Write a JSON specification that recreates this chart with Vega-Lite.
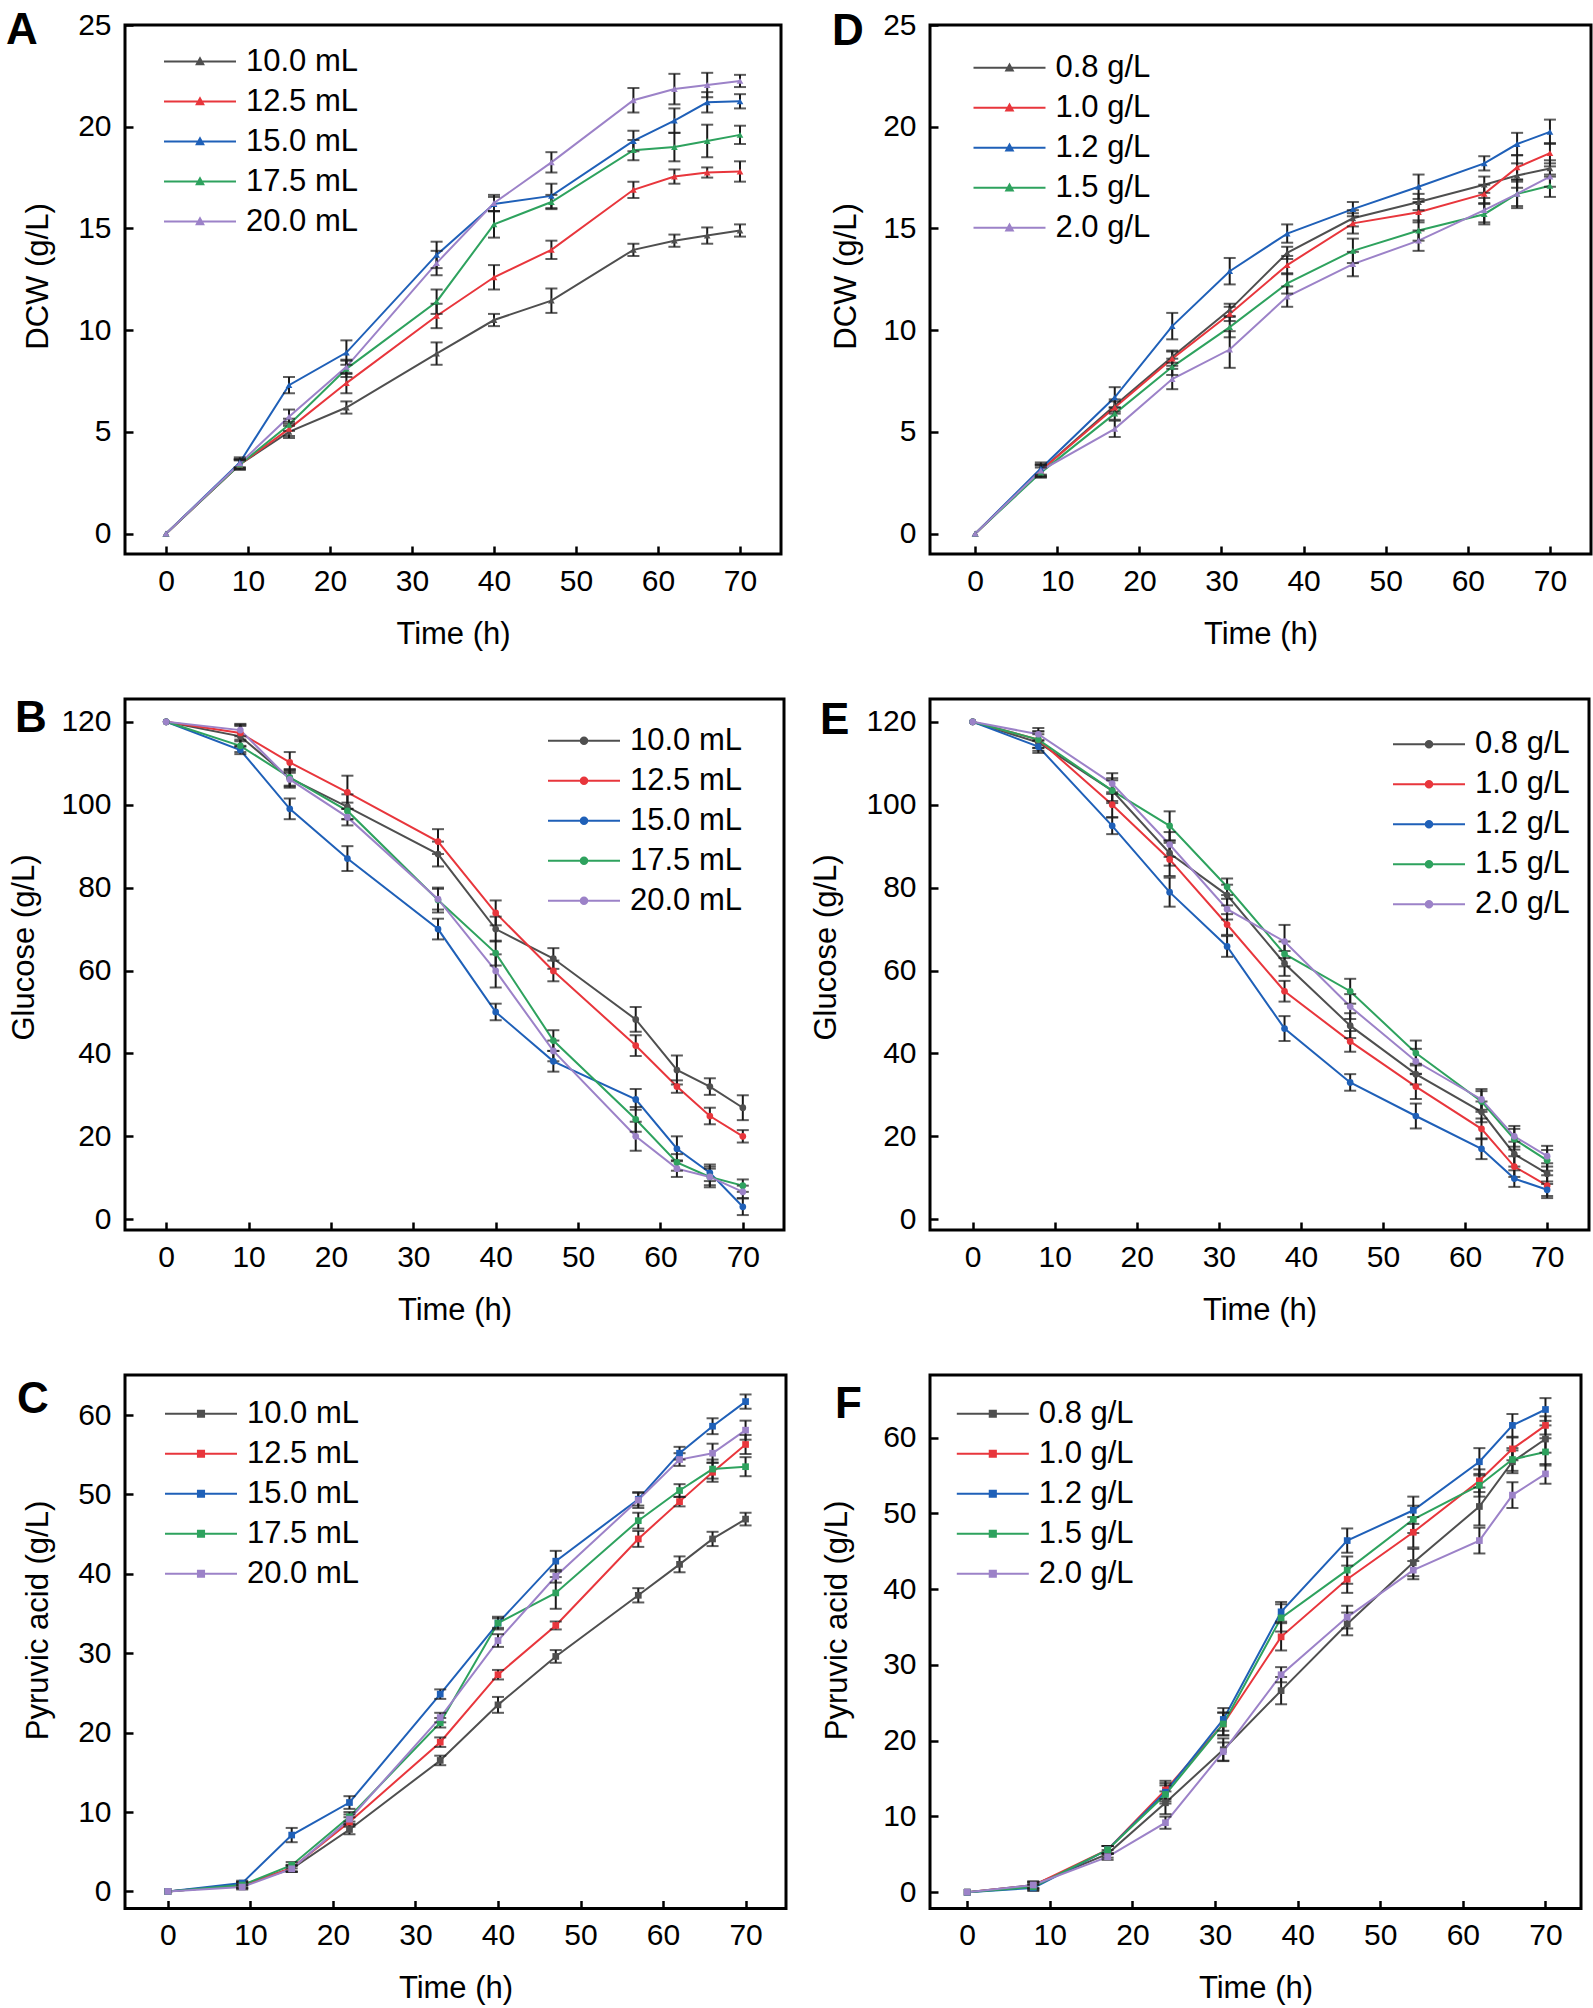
{
"$schema": "https://vega.github.io/schema/vega-lite/v6.json",
"background": "white",
"padding": {"left": 4, "top": 7, "right": 0, "bottom": 0},
"config": {
  "font": "Liberation Sans",
  "view": {"stroke": "#000000", "strokeWidth": 3},
  "axis": {"labelFont": "Liberation Sans", "labelFontSize": 30, "labelColor": "#000000", "titleFont": "Liberation Sans", "titleFontSize": 31, "titleFontWeight": "normal", "titleColor": "#000000", "grid": false, "domain": false, "tickColor": "#000000", "tickWidth": 2.5, "tickSize": -8, "labelFlush": false, "labelOverlap": false},
  "axisX": {"labelPadding": 44, "labelBaseline": "alphabetic", "titleY": 89, "titleBaseline": "alphabetic"},
  "axisY": {"labelPadding": 22, "labelBaseline": "middle", "titleBaseline": "middle", "titleAngle": 270},
  "legend": {"orient": "none", "padding": 0, "rowPadding": 0, "labelFont": "Liberation Sans", "labelFontSize": 31, "labelColor": "#000000", "labelOffset": 9, "symbolSize": 5184, "symbolStrokeWidth": 2, "symbolOpacity": 1, "labelLimit": 300, "title": null},
  "title": {"font": "Liberation Sans", "fontSize": 44, "fontWeight": "bold", "color": "#000000", "anchor": "start", "frame": "group", "offset": 0, "baseline": "alphabetic"}
},
"datasets": {
"A": [
{"t":0,"s":"10.0 mL","v":0,"e":0},{"t":9,"s":"10.0 mL","v":3.4,"e":0.25},{"t":15,"s":"10.0 mL","v":5.0,"e":0.3},{"t":22,"s":"10.0 mL","v":6.2,"e":0.3},{"t":33,"s":"10.0 mL","v":8.85,"e":0.55},{"t":40,"s":"10.0 mL","v":10.5,"e":0.3},{"t":47,"s":"10.0 mL","v":11.45,"e":0.6},{"t":57,"s":"10.0 mL","v":13.95,"e":0.3},{"t":62,"s":"10.0 mL","v":14.4,"e":0.3},{"t":66,"s":"10.0 mL","v":14.65,"e":0.4},{"t":70,"s":"10.0 mL","v":14.9,"e":0.3},
{"t":0,"s":"12.5 mL","v":0,"e":0},{"t":9,"s":"12.5 mL","v":3.4,"e":0.25},{"t":15,"s":"12.5 mL","v":5.15,"e":0.35},{"t":22,"s":"12.5 mL","v":7.4,"e":0.5},{"t":33,"s":"12.5 mL","v":10.7,"e":0.6},{"t":40,"s":"12.5 mL","v":12.6,"e":0.6},{"t":47,"s":"12.5 mL","v":13.95,"e":0.45},{"t":57,"s":"12.5 mL","v":16.9,"e":0.4},{"t":62,"s":"12.5 mL","v":17.55,"e":0.35},{"t":66,"s":"12.5 mL","v":17.75,"e":0.25},{"t":70,"s":"12.5 mL","v":17.8,"e":0.5},
{"t":0,"s":"15.0 mL","v":0,"e":0},{"t":9,"s":"15.0 mL","v":3.5,"e":0.25},{"t":15,"s":"15.0 mL","v":7.3,"e":0.4},{"t":22,"s":"15.0 mL","v":8.9,"e":0.6},{"t":33,"s":"15.0 mL","v":13.7,"e":0.65},{"t":40,"s":"15.0 mL","v":16.2,"e":0.35},{"t":47,"s":"15.0 mL","v":16.6,"e":0.6},{"t":57,"s":"15.0 mL","v":19.3,"e":0.5},{"t":62,"s":"15.0 mL","v":20.3,"e":0.6},{"t":66,"s":"15.0 mL","v":21.2,"e":0.5},{"t":70,"s":"15.0 mL","v":21.25,"e":0.35},
{"t":0,"s":"17.5 mL","v":0,"e":0},{"t":9,"s":"17.5 mL","v":3.4,"e":0.2},{"t":15,"s":"17.5 mL","v":5.35,"e":0.3},{"t":22,"s":"17.5 mL","v":8.1,"e":0.4},{"t":33,"s":"17.5 mL","v":11.4,"e":0.6},{"t":40,"s":"17.5 mL","v":15.2,"e":0.65},{"t":47,"s":"17.5 mL","v":16.3,"e":0.35},{"t":57,"s":"17.5 mL","v":18.85,"e":0.5},{"t":62,"s":"17.5 mL","v":19.0,"e":0.7},{"t":66,"s":"17.5 mL","v":19.3,"e":0.8},{"t":70,"s":"17.5 mL","v":19.6,"e":0.45},
{"t":0,"s":"20.0 mL","v":0,"e":0},{"t":9,"s":"20.0 mL","v":3.45,"e":0.2},{"t":15,"s":"20.0 mL","v":5.75,"e":0.35},{"t":22,"s":"20.0 mL","v":8.2,"e":0.35},{"t":33,"s":"20.0 mL","v":13.3,"e":0.6},{"t":40,"s":"20.0 mL","v":16.25,"e":0.4},{"t":47,"s":"20.0 mL","v":18.25,"e":0.5},{"t":57,"s":"20.0 mL","v":21.3,"e":0.6},{"t":62,"s":"20.0 mL","v":21.85,"e":0.75},{"t":66,"s":"20.0 mL","v":22.05,"e":0.6},{"t":70,"s":"20.0 mL","v":22.25,"e":0.3}
],
"D": [
{"t":0,"s":"0.8 g/L","v":0,"e":0},{"t":8,"s":"0.8 g/L","v":3.1,"e":0.3},{"t":17,"s":"0.8 g/L","v":6.3,"e":0.3},{"t":24,"s":"0.8 g/L","v":8.7,"e":0.3},{"t":31,"s":"0.8 g/L","v":11.0,"e":0.3},{"t":38,"s":"0.8 g/L","v":13.8,"e":0.3},{"t":46,"s":"0.8 g/L","v":15.5,"e":0.4},{"t":54,"s":"0.8 g/L","v":16.3,"e":0.4},{"t":62,"s":"0.8 g/L","v":17.15,"e":0.4},{"t":66,"s":"0.8 g/L","v":17.6,"e":0.6},{"t":70,"s":"0.8 g/L","v":17.95,"e":0.4},
{"t":0,"s":"1.0 g/L","v":0,"e":0},{"t":8,"s":"1.0 g/L","v":3.1,"e":0.3},{"t":17,"s":"1.0 g/L","v":6.2,"e":0.3},{"t":24,"s":"1.0 g/L","v":8.6,"e":0.35},{"t":31,"s":"1.0 g/L","v":10.8,"e":0.35},{"t":38,"s":"1.0 g/L","v":13.2,"e":0.45},{"t":46,"s":"1.0 g/L","v":15.25,"e":0.5},{"t":54,"s":"1.0 g/L","v":15.8,"e":0.5},{"t":62,"s":"1.0 g/L","v":16.7,"e":0.45},{"t":66,"s":"1.0 g/L","v":18.0,"e":0.6},{"t":70,"s":"1.0 g/L","v":18.7,"e":0.5},
{"t":0,"s":"1.2 g/L","v":0,"e":0},{"t":8,"s":"1.2 g/L","v":3.2,"e":0.3},{"t":17,"s":"1.2 g/L","v":6.7,"e":0.5},{"t":24,"s":"1.2 g/L","v":10.2,"e":0.65},{"t":31,"s":"1.2 g/L","v":12.9,"e":0.65},{"t":38,"s":"1.2 g/L","v":14.75,"e":0.45},{"t":46,"s":"1.2 g/L","v":15.95,"e":0.35},{"t":54,"s":"1.2 g/L","v":17.05,"e":0.6},{"t":62,"s":"1.2 g/L","v":18.2,"e":0.35},{"t":66,"s":"1.2 g/L","v":19.15,"e":0.55},{"t":70,"s":"1.2 g/L","v":19.75,"e":0.6},
{"t":0,"s":"1.5 g/L","v":0,"e":0},{"t":8,"s":"1.5 g/L","v":3.0,"e":0.25},{"t":17,"s":"1.5 g/L","v":5.9,"e":0.3},{"t":24,"s":"1.5 g/L","v":8.2,"e":0.4},{"t":31,"s":"1.5 g/L","v":10.15,"e":0.5},{"t":38,"s":"1.5 g/L","v":12.3,"e":0.5},{"t":46,"s":"1.5 g/L","v":13.9,"e":0.6},{"t":54,"s":"1.5 g/L","v":14.9,"e":0.5},{"t":62,"s":"1.5 g/L","v":15.7,"e":0.5},{"t":66,"s":"1.5 g/L","v":16.7,"e":0.6},{"t":70,"s":"1.5 g/L","v":17.1,"e":0.55},
{"t":0,"s":"2.0 g/L","v":0,"e":0},{"t":8,"s":"2.0 g/L","v":3.1,"e":0.25},{"t":17,"s":"2.0 g/L","v":5.15,"e":0.4},{"t":24,"s":"2.0 g/L","v":7.6,"e":0.5},{"t":31,"s":"2.0 g/L","v":9.05,"e":0.9},{"t":38,"s":"2.0 g/L","v":11.65,"e":0.5},{"t":46,"s":"2.0 g/L","v":13.25,"e":0.6},{"t":54,"s":"2.0 g/L","v":14.4,"e":0.5},{"t":62,"s":"2.0 g/L","v":15.9,"e":0.6},{"t":66,"s":"2.0 g/L","v":16.7,"e":0.7},{"t":70,"s":"2.0 g/L","v":17.55,"e":0.5}
],
"B": [
{"t":0,"s":"10.0 mL","v":120,"e":0},{"t":9,"s":"10.0 mL","v":116.5,"e":2.5},{"t":15,"s":"10.0 mL","v":106.4,"e":2},{"t":22,"s":"10.0 mL","v":99.5,"e":3},{"t":33,"s":"10.0 mL","v":88.1,"e":3},{"t":40,"s":"10.0 mL","v":70.0,"e":3},{"t":47,"s":"10.0 mL","v":62.9,"e":2.5},{"t":57,"s":"10.0 mL","v":48.2,"e":3},{"t":62,"s":"10.0 mL","v":36.0,"e":3.5},{"t":66,"s":"10.0 mL","v":32.0,"e":2},{"t":70,"s":"10.0 mL","v":26.9,"e":3},
{"t":0,"s":"12.5 mL","v":120,"e":0},{"t":9,"s":"12.5 mL","v":117.3,"e":2},{"t":15,"s":"12.5 mL","v":110.2,"e":2.5},{"t":22,"s":"12.5 mL","v":103.0,"e":4},{"t":33,"s":"12.5 mL","v":91.1,"e":3},{"t":40,"s":"12.5 mL","v":73.9,"e":3},{"t":47,"s":"12.5 mL","v":59.9,"e":2.5},{"t":57,"s":"12.5 mL","v":41.9,"e":2.5},{"t":62,"s":"12.5 mL","v":32.0,"e":1.5},{"t":66,"s":"12.5 mL","v":24.9,"e":2},{"t":70,"s":"12.5 mL","v":20.0,"e":1.5},
{"t":0,"s":"15.0 mL","v":120,"e":0},{"t":9,"s":"15.0 mL","v":113.2,"e":1},{"t":15,"s":"15.0 mL","v":99.0,"e":2.5},{"t":22,"s":"15.0 mL","v":87.0,"e":3},{"t":33,"s":"15.0 mL","v":70.0,"e":2.5},{"t":40,"s":"15.0 mL","v":50.0,"e":2},{"t":47,"s":"15.0 mL","v":38.1,"e":2.5},{"t":57,"s":"15.0 mL","v":28.9,"e":2.5},{"t":62,"s":"15.0 mL","v":17.0,"e":3},{"t":66,"s":"15.0 mL","v":11.2,"e":2},{"t":70,"s":"15.0 mL","v":3.0,"e":2},
{"t":0,"s":"17.5 mL","v":120,"e":0},{"t":9,"s":"17.5 mL","v":114.2,"e":1.5},{"t":15,"s":"17.5 mL","v":106.6,"e":2},{"t":22,"s":"17.5 mL","v":98.5,"e":2},{"t":33,"s":"17.5 mL","v":77.0,"e":3},{"t":40,"s":"17.5 mL","v":64.2,"e":3},{"t":47,"s":"17.5 mL","v":43.1,"e":2.5},{"t":57,"s":"17.5 mL","v":24.1,"e":3},{"t":62,"s":"17.5 mL","v":13.7,"e":2},{"t":66,"s":"17.5 mL","v":10.2,"e":2},{"t":70,"s":"17.5 mL","v":8.1,"e":1.5},
{"t":0,"s":"20.0 mL","v":120,"e":0},{"t":9,"s":"20.0 mL","v":118.0,"e":1.5},{"t":15,"s":"20.0 mL","v":106.1,"e":2},{"t":22,"s":"20.0 mL","v":97.0,"e":2},{"t":33,"s":"20.0 mL","v":77.2,"e":2.5},{"t":40,"s":"20.0 mL","v":59.9,"e":4},{"t":47,"s":"20.0 mL","v":40.6,"e":2.5},{"t":57,"s":"20.0 mL","v":20.0,"e":3.5},{"t":62,"s":"20.0 mL","v":12.2,"e":2},{"t":66,"s":"20.0 mL","v":10.2,"e":2.5},{"t":70,"s":"20.0 mL","v":6.6,"e":1.5}
],
"E": [
{"t":0,"s":"0.8 g/L","v":120,"e":0},{"t":8,"s":"0.8 g/L","v":115,"e":2},{"t":17,"s":"0.8 g/L","v":103.4,"e":3},{"t":24,"s":"0.8 g/L","v":88.3,"e":3},{"t":31,"s":"0.8 g/L","v":78.2,"e":2.5},{"t":38,"s":"0.8 g/L","v":61.7,"e":3},{"t":46,"s":"0.8 g/L","v":46.7,"e":3},{"t":54,"s":"0.8 g/L","v":35.0,"e":2.5},{"t":62,"s":"0.8 g/L","v":25.9,"e":2.5},{"t":66,"s":"0.8 g/L","v":15.7,"e":3},{"t":70,"s":"0.8 g/L","v":11.0,"e":2.5},
{"t":0,"s":"1.0 g/L","v":120,"e":0},{"t":8,"s":"1.0 g/L","v":115.7,"e":2},{"t":17,"s":"1.0 g/L","v":100,"e":3},{"t":24,"s":"1.0 g/L","v":86.8,"e":4},{"t":31,"s":"1.0 g/L","v":71.1,"e":2.5},{"t":38,"s":"1.0 g/L","v":55.0,"e":2.5},{"t":46,"s":"1.0 g/L","v":42.9,"e":2.5},{"t":54,"s":"1.0 g/L","v":32.0,"e":3},{"t":62,"s":"1.0 g/L","v":21.8,"e":2.5},{"t":66,"s":"1.0 g/L","v":12.7,"e":2.5},{"t":70,"s":"1.0 g/L","v":8.1,"e":2.5},
{"t":0,"s":"1.2 g/L","v":120,"e":0},{"t":8,"s":"1.2 g/L","v":114,"e":1.5},{"t":17,"s":"1.2 g/L","v":94.9,"e":2},{"t":24,"s":"1.2 g/L","v":78.9,"e":3.5},{"t":31,"s":"1.2 g/L","v":65.8,"e":2.5},{"t":38,"s":"1.2 g/L","v":46.0,"e":3},{"t":46,"s":"1.2 g/L","v":33.0,"e":2},{"t":54,"s":"1.2 g/L","v":24.9,"e":3},{"t":62,"s":"1.2 g/L","v":17.0,"e":2.5},{"t":66,"s":"1.2 g/L","v":9.8,"e":2},{"t":70,"s":"1.2 g/L","v":7.1,"e":2},
{"t":0,"s":"1.5 g/L","v":120,"e":0},{"t":8,"s":"1.5 g/L","v":115.7,"e":2},{"t":17,"s":"1.5 g/L","v":103.4,"e":2.5},{"t":24,"s":"1.5 g/L","v":94.9,"e":3.5},{"t":31,"s":"1.5 g/L","v":80.2,"e":2},{"t":38,"s":"1.5 g/L","v":64.0,"e":3},{"t":46,"s":"1.5 g/L","v":55.0,"e":3},{"t":54,"s":"1.5 g/L","v":40.1,"e":3},{"t":62,"s":"1.5 g/L","v":28.4,"e":2.5},{"t":66,"s":"1.5 g/L","v":19.3,"e":2.5},{"t":70,"s":"1.5 g/L","v":14.2,"e":2.5},
{"t":0,"s":"2.0 g/L","v":120,"e":0},{"t":8,"s":"2.0 g/L","v":117.0,"e":1.5},{"t":17,"s":"2.0 g/L","v":105.1,"e":2.5},{"t":24,"s":"2.0 g/L","v":90.4,"e":3},{"t":31,"s":"2.0 g/L","v":74.8,"e":2.5},{"t":38,"s":"2.0 g/L","v":67.0,"e":4},{"t":46,"s":"2.0 g/L","v":51.3,"e":3},{"t":54,"s":"2.0 g/L","v":38.1,"e":3},{"t":62,"s":"2.0 g/L","v":28.9,"e":2.5},{"t":66,"s":"2.0 g/L","v":20.0,"e":2.5},{"t":70,"s":"2.0 g/L","v":15.2,"e":2.5}
],
"C": [
{"t":0,"s":"10.0 mL","v":0,"e":0},{"t":9,"s":"10.0 mL","v":0.8,"e":0.4},{"t":15,"s":"10.0 mL","v":2.85,"e":0.4},{"t":22,"s":"10.0 mL","v":7.8,"e":0.6},{"t":33,"s":"10.0 mL","v":16.5,"e":0.6},{"t":40,"s":"10.0 mL","v":23.5,"e":1.0},{"t":47,"s":"10.0 mL","v":29.6,"e":0.8},{"t":57,"s":"10.0 mL","v":37.3,"e":0.9},{"t":62,"s":"10.0 mL","v":41.2,"e":1.0},{"t":66,"s":"10.0 mL","v":44.4,"e":0.9},{"t":70,"s":"10.0 mL","v":46.9,"e":0.8},
{"t":0,"s":"12.5 mL","v":0,"e":0},{"t":9,"s":"12.5 mL","v":0.8,"e":0.4},{"t":15,"s":"12.5 mL","v":2.95,"e":0.4},{"t":22,"s":"12.5 mL","v":8.75,"e":0.6},{"t":33,"s":"12.5 mL","v":18.8,"e":0.6},{"t":40,"s":"12.5 mL","v":27.3,"e":0.6},{"t":47,"s":"12.5 mL","v":33.5,"e":0.5},{"t":57,"s":"12.5 mL","v":44.4,"e":1.0},{"t":62,"s":"12.5 mL","v":49.1,"e":0.6},{"t":66,"s":"12.5 mL","v":52.8,"e":1.2},{"t":70,"s":"12.5 mL","v":56.3,"e":1.2},
{"t":0,"s":"15.0 mL","v":0,"e":0},{"t":9,"s":"15.0 mL","v":1.05,"e":0.3},{"t":15,"s":"15.0 mL","v":7.1,"e":0.9},{"t":22,"s":"15.0 mL","v":11.2,"e":0.8},{"t":33,"s":"15.0 mL","v":24.85,"e":0.6},{"t":40,"s":"15.0 mL","v":33.8,"e":0.6},{"t":47,"s":"15.0 mL","v":41.6,"e":1.3},{"t":57,"s":"15.0 mL","v":49.4,"e":0.8},{"t":62,"s":"15.0 mL","v":55.2,"e":0.8},{"t":66,"s":"15.0 mL","v":58.6,"e":1.0},{"t":70,"s":"15.0 mL","v":61.7,"e":0.9},
{"t":0,"s":"17.5 mL","v":0,"e":0},{"t":9,"s":"17.5 mL","v":0.8,"e":0.3},{"t":15,"s":"17.5 mL","v":3.3,"e":0.4},{"t":22,"s":"17.5 mL","v":9.4,"e":0.6},{"t":33,"s":"17.5 mL","v":21.25,"e":0.6},{"t":40,"s":"17.5 mL","v":33.8,"e":0.8},{"t":47,"s":"17.5 mL","v":37.6,"e":2.0},{"t":57,"s":"17.5 mL","v":46.7,"e":1.0},{"t":62,"s":"17.5 mL","v":50.5,"e":0.8},{"t":66,"s":"17.5 mL","v":53.2,"e":1.2},{"t":70,"s":"17.5 mL","v":53.5,"e":1.2},
{"t":0,"s":"20.0 mL","v":0,"e":0},{"t":9,"s":"20.0 mL","v":0.55,"e":0.3},{"t":15,"s":"20.0 mL","v":2.85,"e":0.4},{"t":22,"s":"20.0 mL","v":9.1,"e":0.6},{"t":33,"s":"20.0 mL","v":21.9,"e":0.6},{"t":40,"s":"20.0 mL","v":31.6,"e":0.8},{"t":47,"s":"20.0 mL","v":39.7,"e":0.8},{"t":57,"s":"20.0 mL","v":49.3,"e":1.0},{"t":62,"s":"20.0 mL","v":54.4,"e":0.8},{"t":66,"s":"20.0 mL","v":55.2,"e":1.2},{"t":70,"s":"20.0 mL","v":58.1,"e":1.2}
],
"F": [
{"t":0,"s":"0.8 g/L","v":0,"e":0},{"t":8,"s":"0.8 g/L","v":0.95,"e":0.5},{"t":17,"s":"0.8 g/L","v":5.06,"e":0.5},{"t":24,"s":"0.8 g/L","v":11.8,"e":1.5},{"t":31,"s":"0.8 g/L","v":18.8,"e":1.5},{"t":38,"s":"0.8 g/L","v":26.6,"e":1.8},{"t":46,"s":"0.8 g/L","v":35.4,"e":1.5},{"t":54,"s":"0.8 g/L","v":43.5,"e":1.8},{"t":62,"s":"0.8 g/L","v":50.9,"e":2.5},{"t":66,"s":"0.8 g/L","v":56.8,"e":1.5},{"t":70,"s":"0.8 g/L","v":59.8,"e":1.8},
{"t":0,"s":"1.0 g/L","v":0,"e":0},{"t":8,"s":"1.0 g/L","v":0.9,"e":0.4},{"t":17,"s":"1.0 g/L","v":5.6,"e":0.5},{"t":24,"s":"1.0 g/L","v":13.5,"e":1.2},{"t":31,"s":"1.0 g/L","v":22.2,"e":1.5},{"t":38,"s":"1.0 g/L","v":33.7,"e":1.8},{"t":46,"s":"1.0 g/L","v":41.3,"e":1.8},{"t":54,"s":"1.0 g/L","v":47.5,"e":2.0},{"t":62,"s":"1.0 g/L","v":54.3,"e":1.5},{"t":66,"s":"1.0 g/L","v":58.5,"e":1.5},{"t":70,"s":"1.0 g/L","v":61.6,"e":1.2},
{"t":0,"s":"1.2 g/L","v":0,"e":0},{"t":8,"s":"1.2 g/L","v":0.56,"e":0.4},{"t":17,"s":"1.2 g/L","v":5.6,"e":0.5},{"t":24,"s":"1.2 g/L","v":13.2,"e":1.2},{"t":31,"s":"1.2 g/L","v":22.8,"e":1.5},{"t":38,"s":"1.2 g/L","v":37.0,"e":1.3},{"t":46,"s":"1.2 g/L","v":46.4,"e":1.6},{"t":54,"s":"1.2 g/L","v":50.4,"e":1.8},{"t":62,"s":"1.2 g/L","v":56.8,"e":1.8},{"t":66,"s":"1.2 g/L","v":61.6,"e":1.5},{"t":70,"s":"1.2 g/L","v":63.7,"e":1.5},
{"t":0,"s":"1.5 g/L","v":0,"e":0},{"t":8,"s":"1.5 g/L","v":0.7,"e":0.4},{"t":17,"s":"1.5 g/L","v":5.6,"e":0.5},{"t":24,"s":"1.5 g/L","v":12.9,"e":1.2},{"t":31,"s":"1.5 g/L","v":22.2,"e":1.5},{"t":38,"s":"1.5 g/L","v":36.2,"e":1.8},{"t":46,"s":"1.5 g/L","v":42.5,"e":1.8},{"t":54,"s":"1.5 g/L","v":49.2,"e":1.8},{"t":62,"s":"1.5 g/L","v":53.7,"e":1.5},{"t":66,"s":"1.5 g/L","v":57.1,"e":1.5},{"t":70,"s":"1.5 g/L","v":58.1,"e":1.8},
{"t":0,"s":"2.0 g/L","v":0,"e":0},{"t":8,"s":"2.0 g/L","v":0.95,"e":0.4},{"t":17,"s":"2.0 g/L","v":4.67,"e":0.4},{"t":24,"s":"2.0 g/L","v":9.17,"e":0.8},{"t":31,"s":"2.0 g/L","v":18.56,"e":1.2},{"t":38,"s":"2.0 g/L","v":28.7,"e":1.0},{"t":46,"s":"2.0 g/L","v":36.3,"e":1.5},{"t":54,"s":"2.0 g/L","v":42.5,"e":1.2},{"t":62,"s":"2.0 g/L","v":46.4,"e":1.7},{"t":66,"s":"2.0 g/L","v":52.4,"e":1.7},{"t":70,"s":"2.0 g/L","v":55.2,"e":1.3}
]
},
"columns": 2,
"align": "each",
"bounds": "flush",
"spacing": {"row": 145, "column": 144},
"resolve": {"scale": {"color": "independent"}, "legend": {"color": "independent"}},
"concat": [
{
 "name": "pA", "width": 656, "height": 529, "data": {"name": "A"},
 "title": {"text": "A", "dx": -119, "dy": 47.4},
 "encoding": {
  "x": {"field": "t", "type": "quantitative", "scale": {"domain": [-5, 75], "nice": false, "zero": false}, "axis": {"values": [0,10,20,30,40,50,60,70], "title": "Time (h)"}},
  "y": {"field": "v", "type": "quantitative", "scale": {"domain": [-1, 25], "nice": false, "zero": false}, "axis": {"values": [0,5,10,15,20,25], "title": "DCW (g/L)", "titleX": -87, "titleY": 251}}
 },
 "layer": [
  {"mark": {"type": "line", "strokeWidth": 2}, "encoding": {"color": {"field": "s", "type": "nominal", "scale": {"domain": ["10.0 mL","12.5 mL","15.0 mL","17.5 mL","20.0 mL"], "range": ["#4f4f4f","#e8363c","#1f60b8","#2ea25e","#9c82c8"]}, "legend": {"orient": "none", "legendX": 38, "legendY": 16.5, "clipHeight": 40, "symbolType": "M-1,0H1M-0.09,0.075L0,-0.09L0.09,0.075Z", "encode": {"symbols": {"update": {"fill": {"scale": "pA_color", "field": "value"}}}}}}}},
  {"mark": {"type": "errorbar", "ticks": true, "size": 12, "thickness": 2}, "transform": [{"filter": "datum.e > 0"}], "encoding": {"yError": {"field": "e"}, "color": {"value": "#1a1a1a"}}},
  {"mark": {"type": "point", "shape": "triangle-up", "filled": true, "size": 45, "opacity": 1}, "encoding": {"color": {"field": "s", "type": "nominal", "legend": null}}}
 ]
},
{
 "name": "pD", "width": 661, "height": 529, "data": {"name": "D"},
 "title": {"text": "D", "dx": -98, "dy": 47.5},
 "encoding": {
  "x": {"field": "t", "type": "quantitative", "scale": {"domain": [-5.5, 75], "nice": false, "zero": false}, "axis": {"values": [0,10,20,30,40,50,60,70], "title": "Time (h)"}},
  "y": {"field": "v", "type": "quantitative", "scale": {"domain": [-1, 25], "nice": false, "zero": false}, "axis": {"values": [0,5,10,15,20,25], "title": "DCW (g/L)", "titleX": -83.5, "titleY": 251}}
 },
 "layer": [
  {"mark": {"type": "line", "strokeWidth": 2}, "encoding": {"color": {"field": "s", "type": "nominal", "scale": {"domain": ["0.8 g/L","1.0 g/L","1.2 g/L","1.5 g/L","2.0 g/L"], "range": ["#4f4f4f","#e8363c","#1f60b8","#2ea25e","#9c82c8"]}, "legend": {"orient": "none", "legendX": 42.5, "legendY": 23, "clipHeight": 39.7, "symbolType": "M-1,0H1M-0.09,0.075L0,-0.09L0.09,0.075Z", "encode": {"symbols": {"update": {"fill": {"scale": "pD_color", "field": "value"}}}}}}}},
  {"mark": {"type": "errorbar", "ticks": true, "size": 12, "thickness": 2}, "transform": [{"filter": "datum.e > 0"}], "encoding": {"yError": {"field": "e"}, "color": {"value": "#1a1a1a"}}},
  {"mark": {"type": "point", "shape": "triangle-up", "filled": true, "size": 45, "opacity": 1}, "encoding": {"color": {"field": "s", "type": "nominal", "legend": null}}}
 ]
},
{
 "name": "pB", "width": 659, "height": 531, "data": {"name": "B"},
 "title": {"text": "B", "dx": -110, "dy": 45.5},
 "encoding": {
  "x": {"field": "t", "type": "quantitative", "scale": {"domain": [-5, 75], "nice": false, "zero": false}, "axis": {"values": [0,10,20,30,40,50,60,70], "title": "Time (h)"}},
  "y": {"field": "v", "type": "quantitative", "scale": {"domain": [-2.6, 125.5], "nice": false, "zero": false}, "axis": {"values": [0,20,40,60,80,100,120], "title": "Glucose (g/L)", "titleX": -101, "titleY": 248}}
 },
 "layer": [
  {"mark": {"type": "line", "strokeWidth": 2}, "encoding": {"color": {"field": "s", "type": "nominal", "scale": {"domain": ["10.0 mL","12.5 mL","15.0 mL","17.5 mL","20.0 mL"], "range": ["#4f4f4f","#e8363c","#1f60b8","#2ea25e","#9c82c8"]}, "legend": {"orient": "none", "legendX": 422, "legendY": 22, "clipHeight": 39.6, "symbolType": "M-1,0H1M0.09,0A0.09,0.09,0,1,1,-0.09,0A0.09,0.09,0,1,1,0.09,0Z", "encode": {"symbols": {"update": {"fill": {"scale": "pB_color", "field": "value"}}}}}}}},
  {"mark": {"type": "errorbar", "ticks": true, "size": 12, "thickness": 2}, "transform": [{"filter": "datum.e > 0"}], "encoding": {"yError": {"field": "e"}, "color": {"value": "#1a1a1a"}}},
  {"mark": {"type": "point", "shape": "circle", "filled": true, "size": 45, "opacity": 1}, "encoding": {"color": {"field": "s", "type": "nominal", "legend": null}}}
 ]
},
{
 "name": "pE", "width": 659, "height": 531, "data": {"name": "E"},
 "title": {"text": "E", "dx": -110, "dy": 48},
 "encoding": {
  "x": {"field": "t", "type": "quantitative", "scale": {"domain": [-5.2, 75.1], "nice": false, "zero": false}, "axis": {"values": [0,10,20,30,40,50,60,70], "title": "Time (h)"}},
  "y": {"field": "v", "type": "quantitative", "scale": {"domain": [-2.6, 125.5], "nice": false, "zero": false}, "axis": {"values": [0,20,40,60,80,100,120], "title": "Glucose (g/L)", "titleX": -104, "titleY": 248}}
 },
 "layer": [
  {"mark": {"type": "line", "strokeWidth": 2}, "encoding": {"color": {"field": "s", "type": "nominal", "scale": {"domain": ["0.8 g/L","1.0 g/L","1.2 g/L","1.5 g/L","2.0 g/L"], "range": ["#4f4f4f","#e8363c","#1f60b8","#2ea25e","#9c82c8"]}, "legend": {"orient": "none", "legendX": 462, "legendY": 25.5, "clipHeight": 39.6, "symbolType": "M-1,0H1M0.09,0A0.09,0.09,0,1,1,-0.09,0A0.09,0.09,0,1,1,0.09,0Z", "encode": {"symbols": {"update": {"fill": {"scale": "pE_color", "field": "value"}}}}}}}},
  {"mark": {"type": "errorbar", "ticks": true, "size": 12, "thickness": 2}, "transform": [{"filter": "datum.e > 0"}], "encoding": {"yError": {"field": "e"}, "color": {"value": "#1a1a1a"}}},
  {"mark": {"type": "point", "shape": "circle", "filled": true, "size": 45, "opacity": 1}, "encoding": {"color": {"field": "s", "type": "nominal", "legend": null}}}
 ]
},
{
 "name": "pC", "width": 661, "height": 533.5, "data": {"name": "C"},
 "title": {"text": "C", "dx": -108, "dy": 50.5},
 "encoding": {
  "x": {"field": "t", "type": "quantitative", "scale": {"domain": [-5.2, 74.9], "nice": false, "zero": false}, "axis": {"values": [0,10,20,30,40,50,60,70], "title": "Time (h)"}},
  "y": {"field": "v", "type": "quantitative", "scale": {"domain": [-2.15, 65.05], "nice": false, "zero": false}, "axis": {"values": [0,10,20,30,40,50,60], "title": "Pyruvic acid (g/L)", "titleX": -87, "titleY": 245}}
 },
 "layer": [
  {"mark": {"type": "line", "strokeWidth": 2}, "encoding": {"color": {"field": "s", "type": "nominal", "scale": {"domain": ["10.0 mL","12.5 mL","15.0 mL","17.5 mL","20.0 mL"], "range": ["#4f4f4f","#e8363c","#1f60b8","#2ea25e","#9c82c8"]}, "legend": {"orient": "none", "legendX": 39, "legendY": 19, "clipHeight": 39.5, "symbolType": "M-1,0H1M-0.085,-0.085H0.085V0.085H-0.085Z", "encode": {"symbols": {"update": {"fill": {"scale": "pC_color", "field": "value"}}}}}}}},
  {"mark": {"type": "errorbar", "ticks": true, "size": 12, "thickness": 2}, "transform": [{"filter": "datum.e > 0"}], "encoding": {"yError": {"field": "e"}, "color": {"value": "#1a1a1a"}}},
  {"mark": {"type": "point", "shape": "square", "filled": true, "size": 45, "opacity": 1}, "encoding": {"color": {"field": "s", "type": "nominal", "legend": null}}}
 ]
},
{
 "name": "pF", "width": 651, "height": 533.5, "data": {"name": "F"},
 "title": {"text": "F", "dx": -95, "dy": 55.5},
 "encoding": {
  "x": {"field": "t", "type": "quantitative", "scale": {"domain": [-4.5, 74.3], "nice": false, "zero": false}, "axis": {"values": [0,10,20,30,40,50,60,70], "title": "Time (h)"}},
  "y": {"field": "v", "type": "quantitative", "scale": {"domain": [-2.15, 68.25], "nice": false, "zero": false}, "axis": {"values": [0,10,20,30,40,50,60], "title": "Pyruvic acid (g/L)", "titleX": -92.6, "titleY": 245}}
 },
 "layer": [
  {"mark": {"type": "line", "strokeWidth": 2}, "encoding": {"color": {"field": "s", "type": "nominal", "scale": {"domain": ["0.8 g/L","1.0 g/L","1.2 g/L","1.5 g/L","2.0 g/L"], "range": ["#4f4f4f","#e8363c","#1f60b8","#2ea25e","#9c82c8"]}, "legend": {"orient": "none", "legendX": 25.8, "legendY": 19, "clipHeight": 39.6, "symbolType": "M-1,0H1M-0.085,-0.085H0.085V0.085H-0.085Z", "encode": {"symbols": {"update": {"fill": {"scale": "pF_color", "field": "value"}}}}}}}},
  {"mark": {"type": "errorbar", "ticks": true, "size": 12, "thickness": 2}, "transform": [{"filter": "datum.e > 0"}], "encoding": {"yError": {"field": "e"}, "color": {"value": "#1a1a1a"}}},
  {"mark": {"type": "point", "shape": "square", "filled": true, "size": 45, "opacity": 1}, "encoding": {"color": {"field": "s", "type": "nominal", "legend": null}}}
 ]
}
]
}
